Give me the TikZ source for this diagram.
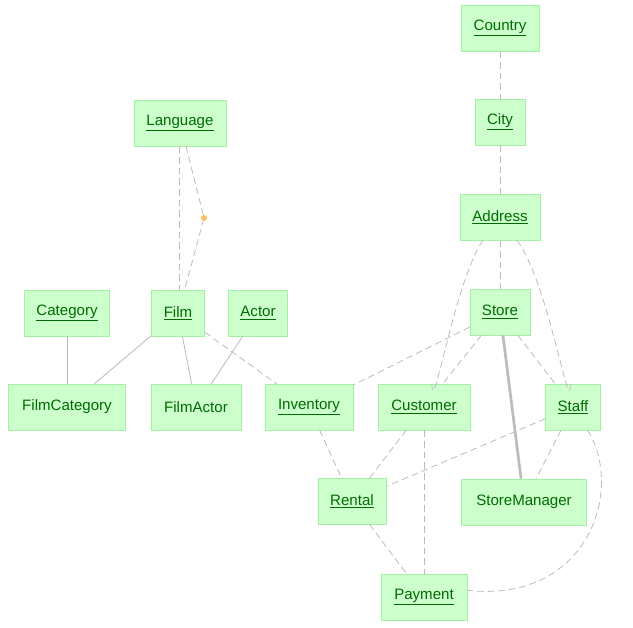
\documentclass[tikz,border=0pt]{standalone}
\usepackage{fontspec}
\setmainfont{Liberation Sans}
\usepackage{tikz}
\definecolor{entfill}{HTML}{CCFFCC}
\definecolor{entline}{HTML}{A6F0A6}
\definecolor{enttext}{HTML}{006B00}
\definecolor{relline}{HTML}{BBBBBB}
\definecolor{dotcol}{HTML}{FFBB66}
\newcommand{\key}[1]{\underline{#1}}
\tikzset{
  entity/.style={draw=entline, fill=entfill, text=enttext, minimum height=34.5pt,
    inner xsep=0pt, font=\fontsize{11.3}{13}\selectfont},
  rel/.style={draw=relline, line width=0.6pt},
  weak/.style={rel, dash pattern=on 5pt off 3pt},
  strong/.style={draw=relline, line width=2pt}
}
\begin{document}
\begin{tikzpicture}[x=0.75pt, y=-0.75pt]
  \useasboundingbox (0,0) rectangle (633,628);

  % Entities
  \node[entity, minimum width=58.5pt] (country) at (500,28) {\key{Country}};
  \node[entity, minimum width=37.5pt] (city) at (500,122) {\key{City}};
  \node[entity, minimum width=69pt] (language) at (180,123) {\key{Language}};
  \node[entity, minimum width=60pt] (address) at (500,217) {\key{Address}};
  \node[entity, minimum width=64pt] (category) at (67,313) {\key{Category}};
  \node[entity, minimum width=40pt] (film) at (178,313) {\key{Film}};
  \node[entity, minimum width=44pt] (actor) at (258,313) {\key{Actor}};
  \node[entity, minimum width=45pt] (store) at (500,312) {\key{Store}};
  \node[entity, minimum width=88pt] (filmcat) at (67,407) {FilmCategory};
  \node[entity, minimum width=67.5pt] (filmactor) at (196,407) {FilmActor};
  \node[entity, minimum width=66pt] (inventory) at (309,407) {\key{Inventory}};
  \node[entity, minimum width=69pt] (customer) at (424,407) {\key{Customer}};
  \node[entity, minimum width=41pt] (staff) at (573,407) {\key{Staff}};
  \node[entity, minimum width=51pt] (rental) at (352,501) {\key{Rental}};
  \node[entity, minimum width=94pt] (manager) at (524,502) {StoreManager};
  \node[entity, minimum width=64.5pt] (payment) at (424,597) {\key{Payment}};

  % Language -- Film (two links, one with a bend point)
  \coordinate (bend) at (204,218);
  \draw[weak] ([xshift=-0.75pt]language.south) -- ([xshift=0.75pt]film.north);
  \draw[weak] ([xshift=4.5pt]language.south) -- (bend) -- ([xshift=5pt]film.north);
  \fill[dotcol] (bend) circle (3);

  % Geography
  \draw[weak] (country) -- (city);
  \draw[weak] (city) -- (address);
  \draw[weak] (address) -- (store);
  \draw[weak] ([xshift=-12.75pt]address.south) .. controls +(-21pt,-30pt) and +(0pt,-30pt) .. ([xshift=6pt]customer.north);
  \draw[weak] ([xshift=12.75pt]address.south) .. controls +(23pt,-30pt) and +(0pt,-30pt) .. ([xshift=-2pt]staff.north);

  % Film links
  \draw[rel] (category) -- (filmcat);
  \draw[rel] (film) -- (filmcat);
  \draw[rel] (film) -- (filmactor);
  \draw[rel] (actor) -- (filmactor);
  \draw[weak] (film) -- (inventory);

  % Store links
  \draw[weak] (store) -- (inventory);
  \draw[weak] (store) -- (customer);
  \draw[weak] (store) -- (staff);
  \draw[strong] (store) -- (manager);

  % Rental and payment
  \draw[weak] (inventory) -- (rental);
  \draw[weak] (customer) -- (rental);
  \draw[weak] (staff) -- (rental);
  \draw[weak] (staff) -- (manager);
  \draw[weak] (customer) -- (payment);
  \draw[weak] (rental) -- (payment);
  \draw[weak] ([xshift=11pt]staff.south) .. controls +(28pt,-45pt) and +(90pt,-10pt) .. ([yshift=5pt]payment.east);
\end{tikzpicture}
\end{document}
